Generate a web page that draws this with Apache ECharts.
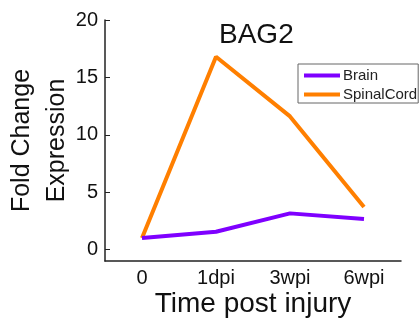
<!DOCTYPE html>
<html><head><meta charset="utf-8">
<script src="https://cdn.jsdelivr.net/npm/echarts@6/dist/echarts.min.js"></script>
<style>html,body{margin:0;padding:0;background:#fff}#c{width:420px;height:324px}</style>
</head><body><div id="c"></div>
<script>
const categories = ['0', '1dpi', '3wpi', '6wpi'];
const brain = [1.0, 1.55, 3.15, 2.65];
const spinalCord = [1.0, 16.8, 11.6, 3.7];
const yTicks = [0, 5, 10, 15, 20];

const font = 'Liberation Sans, Arial, sans-serif';
const chart = echarts.init(document.getElementById('c'));
chart.setOption({
  animation: false,
  backgroundColor: '#fff',
  title: {
    text: 'BAG2', left: 214, top: 16,
    textStyle: {fontFamily: font, fontSize: 28, fontWeight: 'normal', color: '#111'}
  },
  legend: {
    orient: 'vertical', left: 298, top: 64,
    borderColor: '#666', borderWidth: 1, padding: [4, 1, 1, 6], itemGap: 4,
    icon: 'rect', itemWidth: 36, itemHeight: 4,
    textStyle: {fontFamily: font, fontSize: 15, color: '#222', padding: [0, 0, 0, -2]},
    data: ['Brain', 'SpinalCord']
  },
  grid: {left: 105, right: 19, top: 20, bottom: 63, containLabel: false, outerBoundsMode: 'none'},
  xAxis: {
    type: 'category', data: categories, boundaryGap: true,
    name: 'Time post injury', nameLocation: 'middle', nameGap: 29, nameMoveOverlap: false,
    nameTextStyle: {fontFamily: font, fontSize: 28, color: '#111'},
    axisLine: {onZero: false, lineStyle: {color: '#222', width: 1.5}},
    axisTick: {alignWithLabel: true, inside: true, length: 5, lineStyle: {color: '#222'}},
    axisLabel: {fontFamily: font, fontSize: 20, color: '#111', margin: 7}
  },
  yAxis: {
    type: 'value', min: -1, max: 20,
    name: 'Fold Change\nExpression', nameLocation: 'middle', nameGap: 30, nameRotate: 90,
    nameMoveOverlap: false,
    nameTextStyle: {fontFamily: font, fontSize: 25, color: '#111', lineHeight: 35},
    splitLine: {show: false},
    axisLine: {show: true, lineStyle: {color: '#222', width: 1.5}},
    axisTick: {show: true, inside: true, length: 5, customValues: yTicks, lineStyle: {color: '#222'}},
    axisLabel: {fontFamily: font, fontSize: 20, color: '#111', margin: 7, customValues: yTicks}
  },
  series: [
    {name: 'Brain', type: 'line', data: brain, showSymbol: false, z: 3,
     lineStyle: {color: '#7F00FF', width: 4}, itemStyle: {color: '#7F00FF'}},
    {name: 'SpinalCord', type: 'line', data: spinalCord, showSymbol: false, z: 2,
     lineStyle: {color: '#FF7F00', width: 4}, itemStyle: {color: '#FF7F00'}}
  ]
});
</script></body></html>
